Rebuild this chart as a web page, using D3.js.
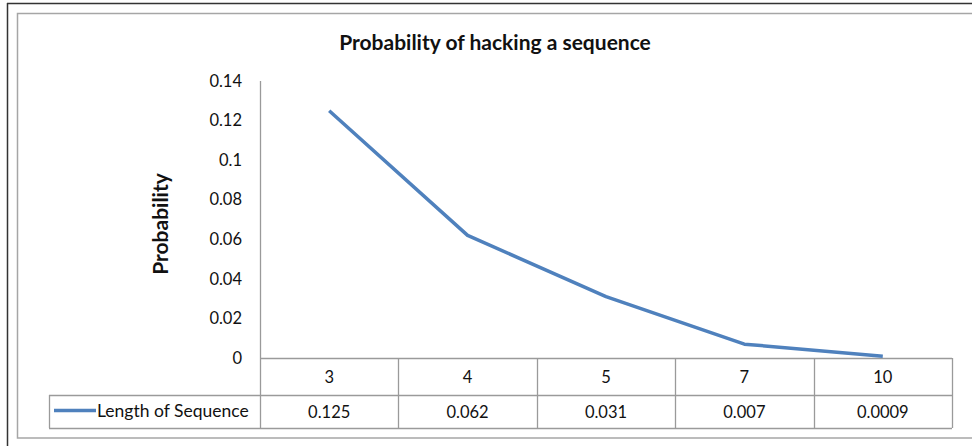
<!DOCTYPE html>
<html>
<head>
<meta charset="utf-8">
<script src="https://cdn.jsdelivr.net/npm/d3@7"></script>
<style>
  html, body { margin: 0; padding: 0; background: #fff; }
  svg { display: block; }
  text { font-family: Lato, "Open Sans", "Liberation Sans", sans-serif; }
</style>
</head>
<body>
<svg id="chart" width="972" height="446"></svg>
<script>
// Sequence lengths and the chance of guessing each one
const categories = ["3", "4", "5", "7", "10"];
const probabilities = [0.125, 0.062, 0.031, 0.007, 0.0009];
const valueLabels = ["0.125", "0.062", "0.031", "0.007", "0.0009"];
const yTicks = [0, 0.02, 0.04, 0.06, 0.08, 0.1, 0.12, 0.14];
const seriesName = "Length of Sequence";
const chartTitle = "Probability of hacking a sequence";
const yTitle = "Probability";

const svg = d3.select("#chart");
const gridColor = "#9a9a9a";
const lineColor = "#4f81bd";
const textColor = "#111";

// Frames
svg.append("line").attr("x1", 7.5).attr("x2", 7.5).attr("y1", 3).attr("y2", 446)
  .attr("stroke", "#333").attr("stroke-width", 1.5);
svg.append("line").attr("x1", 7).attr("x2", 972).attr("y1", 3.5).attr("y2", 3.5)
  .attr("stroke", "#333").attr("stroke-width", 1.5);
svg.append("rect").attr("x", 17.5).attr("y", 13.5).attr("width", 970).attr("height", 424.5)
  .attr("fill", "none").attr("stroke", "#a6a6a6").attr("stroke-width", 1.5);

// Scales
const x = d3.scaleBand().domain(categories).range([260, 952]).padding(0);
const y = d3.scaleLinear().domain([0, 0.14]).range([358, 81]);

// Title
svg.append("text").attr("x", 495).attr("y", 50).attr("text-anchor", "middle")
  .attr("font-size", 21).attr("font-weight", "bold").attr("fill", textColor).text(chartTitle);

// Y axis title
svg.append("text").attr("transform", "translate(168,224) rotate(-90)")
  .attr("text-anchor", "middle").attr("font-size", 21).attr("font-weight", "bold")
  .attr("fill", textColor).text(yTitle);

// Y axis
const yAxis = d3.axisLeft(y).tickValues(yTicks).tickSize(0).tickPadding(18)
  .tickFormat(d => d3.format("~g")(d));
const yg = svg.append("g").attr("transform", "translate(260,0)").call(yAxis);
yg.select(".domain").remove();
yg.selectAll("text").attr("font-size", 16.5).attr("fill", textColor)
  .style("font-family", "Lato, 'Open Sans', sans-serif");
svg.append("line").attr("x1", 260.5).attr("x2", 260.5).attr("y1", y(0.14)).attr("y2", 428)
  .attr("stroke", gridColor).attr("stroke-width", 1.3);

// Data table
const rowTop = y(0), rowMid = 395, rowBot = 428, legendLeft = 49;
const tbl = svg.append("g").attr("stroke", gridColor).attr("stroke-width", 1.3).attr("fill", "none");
tbl.append("line").attr("x1", 260).attr("x2", x.range()[1]).attr("y1", rowTop + 0.5).attr("y2", rowTop + 0.5);
tbl.append("line").attr("x1", legendLeft).attr("x2", x.range()[1]).attr("y1", rowMid + 0.5).attr("y2", rowMid + 0.5);
tbl.append("line").attr("x1", legendLeft).attr("x2", x.range()[1]).attr("y1", rowBot + 0.5).attr("y2", rowBot + 0.5);
tbl.append("line").attr("x1", legendLeft + 0.5).attr("x2", legendLeft + 0.5).attr("y1", rowMid).attr("y2", rowBot);
categories.forEach(c => {
  const xr = Math.round(x(c) + x.bandwidth()) + 0.5;
  tbl.append("line").attr("x1", xr).attr("x2", xr).attr("y1", rowTop).attr("y2", rowBot);
});

svg.append("g").selectAll("text").data(categories).join("text")
  .attr("x", d => x(d) + x.bandwidth() / 2).attr("y", (rowTop + rowMid) / 2 + 6)
  .attr("text-anchor", "middle").attr("font-size", 16.5).attr("fill", textColor).text(d => d);
svg.append("g").selectAll("text").data(valueLabels).join("text")
  .attr("x", (d, i) => x(categories[i]) + x.bandwidth() / 2).attr("y", (rowMid + rowBot) / 2 + 6)
  .attr("text-anchor", "middle").attr("font-size", 16.5).attr("fill", textColor).text(d => d);

// Legend key in the table
svg.append("line").attr("x1", 54).attr("x2", 96).attr("y1", 410.5).attr("y2", 410.5)
  .attr("stroke", lineColor).attr("stroke-width", 3.5);
svg.append("text").attr("x", 97).attr("y", 417).attr("font-size", 17.5).attr("fill", textColor).text(seriesName);

// Series line
const line = d3.line()
  .x((d, i) => x(categories[i]) + x.bandwidth() / 2)
  .y(d => y(d));
svg.append("path").datum(probabilities).attr("d", line)
  .attr("fill", "none").attr("stroke", lineColor).attr("stroke-width", 3.5)
  .attr("stroke-linejoin", "round").attr("stroke-linecap", "butt");
</script>
</body>
</html>
